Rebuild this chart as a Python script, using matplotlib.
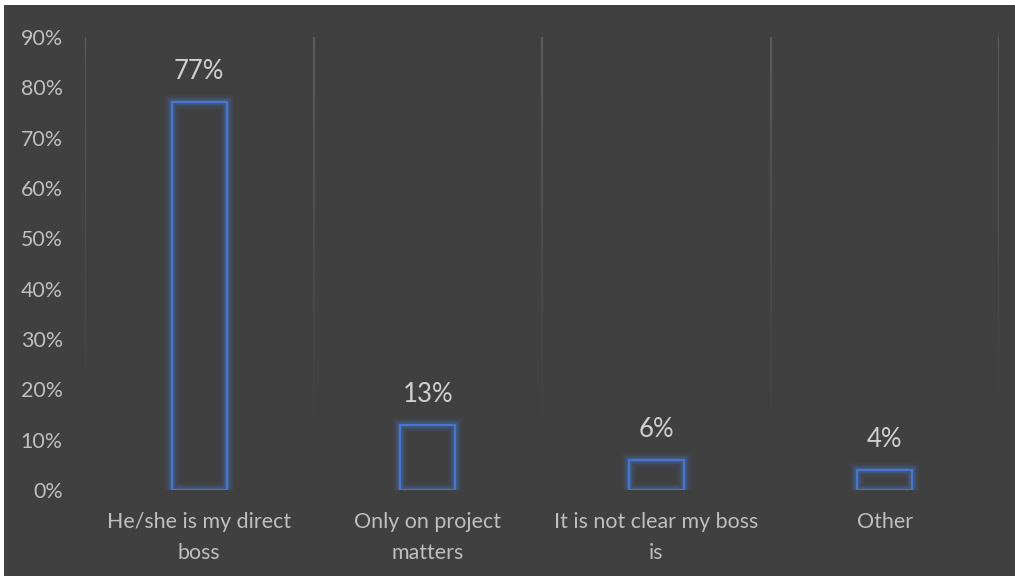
import numpy as np
import matplotlib
matplotlib.use("Agg")
import matplotlib.pyplot as plt
from matplotlib.collections import LineCollection
from matplotlib.patches import Rectangle

categories = ["He/she is my direct\nboss", "Only on project\nmatters",
              "It is not clear my boss\nis", "Other"]
values = [0.77, 0.13, 0.06, 0.04]
y_ticks = [0.0, 0.1, 0.2, 0.3, 0.4, 0.5, 0.6, 0.7, 0.8, 0.9]
y_tick_labels = ["0%", "10%", "20%", "30%", "40%", "50%", "60%", "70%", "80%", "90%"]

BG = "#404040"
TEXT = "#bfbfbf"
LABEL = "#d0d0d0"
BLUE = "#4777cc"
GRID = "#5c5c5c"

plt.rcParams["font.family"] = ["Lato", "DejaVu Sans"]

W, H = 1015, 576
fig = plt.figure(figsize=(W / 100, H / 100), dpi=100, facecolor=BG)
# thin light margin along the top and left edges
fig.patches.append(Rectangle((0, 1 - 5 / H), 1, 5 / H, transform=fig.transFigure,
                             facecolor="white", edgecolor="none", zorder=-10))
fig.patches.append(Rectangle((0, 0), 4 / W, 1, transform=fig.transFigure,
                             facecolor="white", edgecolor="none", zorder=-10))

ax = fig.add_axes([85 / W, (H - 490) / H, 914 / W, 453 / H])
ax.set_facecolor("none")
n = len(categories)
x = np.arange(n)
ax.set_xlim(-0.5, n - 0.5)
ax.set_ylim(0, 0.9)

# vertical separators fading out toward the baseline
for xb in np.arange(-0.5, n, 1.0):
    ys = np.linspace(0.9, 0.0, 120)
    segs = [[(xb, ys[i]), (xb, ys[i + 1])] for i in range(len(ys) - 1)]
    alphas = np.linspace(1.0, 0.0, len(segs)) ** 1.5
    rgba = np.array([matplotlib.colors.to_rgba(GRID)] * len(segs))
    rgba[:, 3] = alphas
    ax.add_collection(LineCollection(segs, colors=rgba, linewidths=1.6,
                                     zorder=1))

bar_w = 0.24
# soft glow around each outlined bar
for lw, a in [(10, 0.07), (8, 0.09), (6, 0.13), (4, 0.2)]:
    ax.bar(x, values, width=bar_w, facecolor="none", edgecolor=BLUE,
           linewidth=lw, alpha=a, zorder=2)
ax.bar(x, values, width=bar_w, facecolor="none", edgecolor=BLUE,
       linewidth=1.6, zorder=3)

for xi, v in zip(x, values):
    ax.annotate(f"{v:.0%}", (xi, v), xytext=(0, 22),
                textcoords="offset points", ha="center", va="center",
                fontsize=18.5, color=LABEL)

ax.set_yticks(y_ticks)
ax.set_yticklabels(y_tick_labels)
ax.set_xticks(x)
ax.set_xticklabels(categories, linespacing=1.65)
ax.tick_params(axis="both", length=0, colors=TEXT, labelsize=15.4)
ax.tick_params(axis="y", pad=16)
ax.tick_params(axis="x", pad=16)
for s in ax.spines.values():
    s.set_visible(False)

fig.savefig("out.png", dpi=100, facecolor=fig.get_facecolor())
